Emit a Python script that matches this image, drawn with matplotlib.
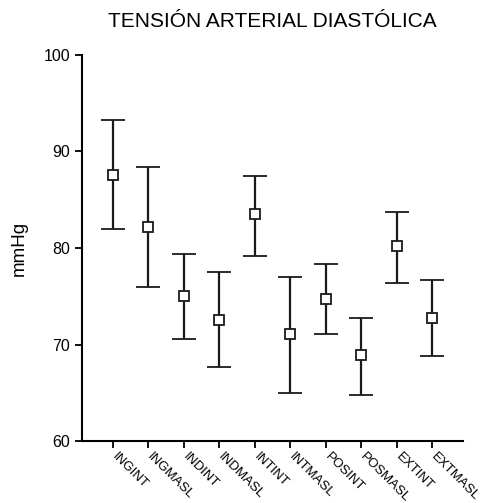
import matplotlib.pyplot as plt
from matplotlib.transforms import ScaledTranslation

plt.rcParams['font.family'] = ['Liberation Sans', 'DejaVu Sans']

groups = ["INGINT", "INGMASL", "INDINT", "INDMASL", "INTINT",
          "INTMASL", "POSINT", "POSMASL", "EXTINT", "EXTMASL"]
means = [87.6, 82.2, 75.0, 72.5, 83.5, 71.1, 74.7, 68.9, 80.2, 72.7]
upper = [93.2, 88.4, 79.4, 77.5, 87.5, 77.0, 78.3, 72.8, 83.7, 76.7]
lower = [82.0, 76.0, 70.6, 67.7, 79.2, 65.0, 71.1, 64.8, 76.4, 68.8]

x = list(range(1, len(groups) + 1))
err_lo = [m - lo for m, lo in zip(means, lower)]
err_hi = [hi - m for m, hi in zip(means, upper)]

fig = plt.figure(figsize=(4.88, 5.03), dpi=100)
ax = fig.add_axes([0.168, 0.123, 0.781, 0.768])

ax.errorbar(x, means, yerr=[err_lo, err_hi], fmt='s', color='#1a1a1a',
            mfc='white', mec='#1a1a1a', ms=7, mew=1.3, elinewidth=1.6,
            capsize=8.7, capthick=1.6)

ax.set_xlim(0.13, 10.87)
ax.set_ylim(60, 100)
ax.set_yticks([60, 70, 80, 90, 100])
ax.set_xticks(x)
ax.set_xticklabels(groups, rotation=-45, ha='left', va='top',
                   rotation_mode='anchor', fontsize=9.5)
ax.tick_params(axis='y', labelsize=11.5, length=5, width=1.3)
ax.tick_params(axis='x', length=5, width=1.3, pad=2)
shift = ScaledTranslation(5 / 100, 0, fig.dpi_scale_trans)
for lab in ax.get_xticklabels():
    lab.set_transform(lab.get_transform() + shift)

ax.spines['top'].set_visible(False)
ax.spines['right'].set_visible(False)
ax.spines['left'].set_linewidth(1.5)
ax.spines['bottom'].set_linewidth(1.5)

ax.set_ylabel("mmHg", fontsize=13.5, labelpad=11)
ax.set_title("TENSIÓN ARTERIAL DIASTÓLICA", fontsize=15, pad=20)

plt.savefig("out.png", dpi=100)
